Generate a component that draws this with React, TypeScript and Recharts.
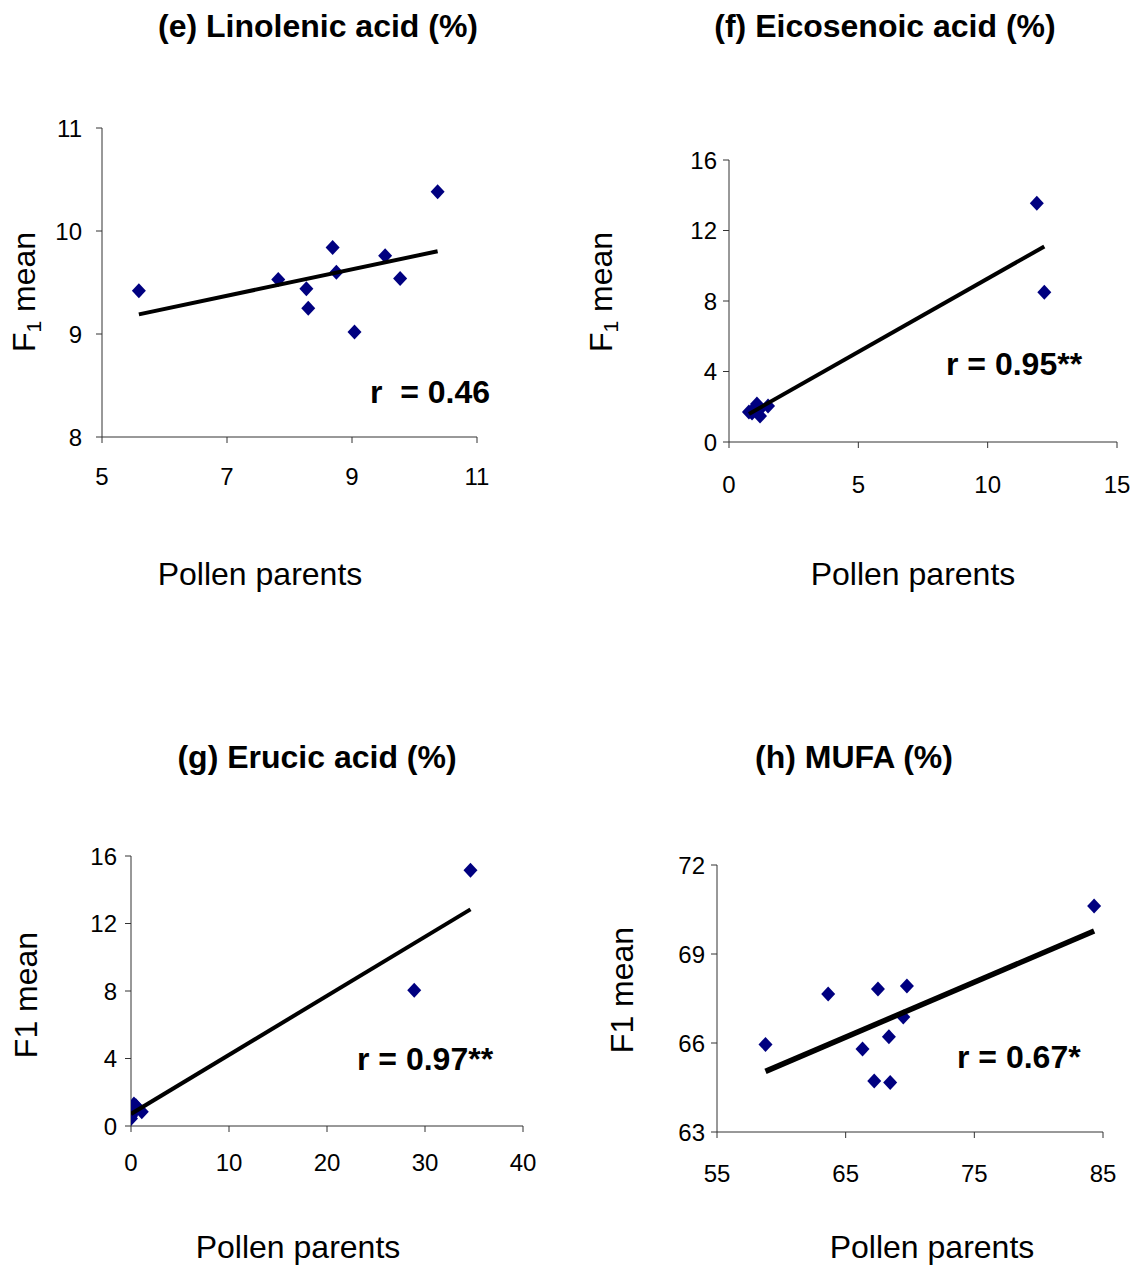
import React from "react";
import { ScatterChart, Scatter, XAxis, YAxis } from "recharts";

// (e) Linolenic acid
const linolenicX = [5.59, 7.82, 8.27, 8.3, 8.69, 8.75, 9.04, 9.53, 9.77, 10.37];
const linolenicY = [9.42, 9.53, 9.44, 9.25, 9.84, 9.6, 9.02, 9.76, 9.54, 10.38];

// (f) Eicosenoic acid
const eicosenoicX = [0.77, 0.89, 0.93, 1.04, 1.08, 1.16, 1.2, 1.51, 11.9, 12.19];
const eicosenoicY = [1.7, 1.64, 1.82, 1.99, 2.16, 1.82, 1.47, 2.04, 13.54, 8.49];

// (g) Erucic acid
const erucicX = [0.0, 0.0, 0.1, 0.2, 0.3, 0.4, 0.5, 1.1, 28.9, 34.64];
const erucicY = [0.45, 0.6, 0.7, 0.9, 1.3, 1.1, 1.2, 0.85, 8.05, 15.15];

// (h) MUFA
const mufaX = [58.77, 63.64, 66.31, 67.22, 67.51, 68.36, 68.46, 69.48, 69.76, 84.31];
const mufaY = [65.95, 67.65, 65.8, 64.72, 67.82, 66.21, 64.67, 66.88, 67.92, 70.62];

const linolenicXTicks = [5, 7, 9, 11];
const linolenicYTicks = [8, 9, 10, 11];
const eicosenoicXTicks = [0, 5, 10, 15];
const eicosenoicYTicks = [0, 4, 8, 12, 16];
const erucicXTicks = [0, 10, 20, 30, 40];
const erucicYTicks = [0, 4, 8, 12, 16];
const mufaXTicks = [55, 65, 75, 85];
const mufaYTicks = [63, 66, 69, 72];

const NAVY = "#000080";
const FONT = "'Liberation Sans', Arial, sans-serif";

type Pt = { x: number; y: number };

const toPoints = (xs: number[], ys: number[]): Pt[] =>
  xs.map((x, i) => ({ x, y: ys[i] }));

// least squares trend line, drawn between smallest and largest x
function trend(xs: number[], ys: number[]): Pt[] {
  const n = xs.length;
  const mx = xs.reduce((a, b) => a + b, 0) / n;
  const my = ys.reduce((a, b) => a + b, 0) / n;
  let sxy = 0;
  let sxx = 0;
  xs.forEach((x, i) => {
    sxy += (x - mx) * (ys[i] - my);
    sxx += (x - mx) * (x - mx);
  });
  const b = sxy / sxx;
  const a = my - b * mx;
  const lo = Math.min(...xs);
  const hi = Math.max(...xs);
  return [
    { x: lo, y: a + b * lo },
    { x: hi, y: a + b * hi },
  ];
}

const Diamond = (props: any) => {
  const { cx, cy } = props;
  if (cx == null || cy == null) return <g />;
  return (
    <polygon
      points={`${cx},${cy - 7.5} ${cx + 7},${cy} ${cx},${cy + 7.5} ${cx - 7},${cy}`}
      fill={NAVY}
    />
  );
};

const NoDot = () => <g />;

interface PanelProps {
  left: number;
  top: number;
  width: number;
  height: number;
  xs: number[];
  ys: number[];
  xTicks: number[];
  yTicks: number[];
  xGap: number;
  yGap: number;
  lineWidth: number;
}

function Panel(p: PanelProps) {
  const yw = 70;
  const xh = 70;
  const mt = 15;
  const mr = 25;
  const tickFont = { fill: "#000", fontSize: 24, fontFamily: FONT };
  return (
    <div style={{ position: "absolute", left: p.left - yw, top: p.top - mt }}>
      <ScatterChart
        width={yw + p.width + mr}
        height={mt + p.height + xh}
        margin={{ top: mt, right: mr, bottom: 0, left: 0 }}
      >
        <XAxis
          type="number"
          dataKey="x"
          domain={[p.xTicks[0], p.xTicks[p.xTicks.length - 1]]}
          ticks={p.xTicks}
          interval={0}
          height={xh}
          tickSize={6}
          tickMargin={p.xGap}
          tick={tickFont}
          stroke="#333"
          allowDataOverflow
        />
        <YAxis
          type="number"
          dataKey="y"
          domain={[p.yTicks[0], p.yTicks[p.yTicks.length - 1]]}
          ticks={p.yTicks}
          interval={0}
          width={yw}
          tickSize={6}
          tickMargin={p.yGap}
          tick={tickFont}
          stroke="#333"
          allowDataOverflow
        />
        <Scatter
          data={toPoints(p.xs, p.ys)}
          shape={Diamond}
          isAnimationActive={false}
        />
        <Scatter
          data={trend(p.xs, p.ys)}
          line={{ stroke: "#000", strokeWidth: p.lineWidth }}
          shape={NoDot}
          isAnimationActive={false}
        />
      </ScatterChart>
    </div>
  );
}

const titleStyle = { fontFamily: FONT, fontSize: 32, fontWeight: 700 } as const;
const labelStyle = { fontFamily: FONT, fontSize: 32 } as const;
const rStyle = { fontFamily: FONT, fontSize: 32, fontWeight: 700, whiteSpace: "pre" } as const;

function YTitle({ x, y, sub }: { x: number; y: number; sub: boolean }) {
  return (
    <text transform={`translate(${x},${y}) rotate(-90)`} textAnchor="middle" style={labelStyle}>
      {sub ? (
        <>
          F<tspan fontSize={21} dy={6}>1</tspan>
          <tspan dy={-6}> mean</tspan>
        </>
      ) : (
        "F1 mean"
      )}
    </text>
  );
}

export default function App() {
  return (
    <div
      style={{
        position: "absolute",
        left: 0,
        top: 0,
        width: 1139,
        height: 1266,
        background: "#fff",
      }}
    >
      <Panel left={102} top={128} width={375} height={309}
        xs={linolenicX} ys={linolenicY} xTicks={linolenicXTicks} yTicks={linolenicYTicks}
        xGap={25} yGap={14} lineWidth={4} />
      <Panel left={729} top={160} width={388} height={282}
        xs={eicosenoicX} ys={eicosenoicY} xTicks={eicosenoicXTicks} yTicks={eicosenoicYTicks}
        xGap={28} yGap={6} lineWidth={4} />
      <Panel left={131} top={856} width={392} height={270}
        xs={erucicX} ys={erucicY} xTicks={erucicXTicks} yTicks={erucicYTicks}
        xGap={22} yGap={8} lineWidth={4} />
      <Panel left={717} top={865} width={386} height={267}
        xs={mufaX} ys={mufaY} xTicks={mufaXTicks} yTicks={mufaYTicks}
        xGap={27} yGap={6} lineWidth={5.5} />

      <svg
        width={1139}
        height={1266}
        style={{ position: "absolute", left: 0, top: 0, pointerEvents: "none" }}
      >
        <text x={318} y={37} textAnchor="middle" style={titleStyle}>(e) Linolenic acid (%)</text>
        <text x={885} y={37} textAnchor="middle" style={titleStyle}>(f) Eicosenoic acid (%)</text>
        <text x={317} y={768} textAnchor="middle" style={titleStyle}>(g) Erucic acid (%)</text>
        <text x={854} y={768} textAnchor="middle" style={titleStyle}>(h) MUFA (%)</text>

        <text x={260} y={585} textAnchor="middle" style={labelStyle}>Pollen parents</text>
        <text x={913} y={585} textAnchor="middle" style={labelStyle}>Pollen parents</text>
        <text x={298} y={1258} textAnchor="middle" style={labelStyle}>Pollen parents</text>
        <text x={932} y={1258} textAnchor="middle" style={labelStyle}>Pollen parents</text>

        <YTitle x={35} y={292} sub />
        <YTitle x={612} y={292} sub />
        <YTitle x={37} y={995} sub={false} />
        <YTitle x={633} y={990} sub={false} />

        <text x={370} y={403} style={rStyle}>r  = 0.46</text>
        <text x={946} y={375} style={rStyle}>r = 0.95**</text>
        <text x={357} y={1070} style={rStyle}>r = 0.97**</text>
        <text x={957} y={1068} style={rStyle}>r = 0.67*</text>
      </svg>
    </div>
  );
}
